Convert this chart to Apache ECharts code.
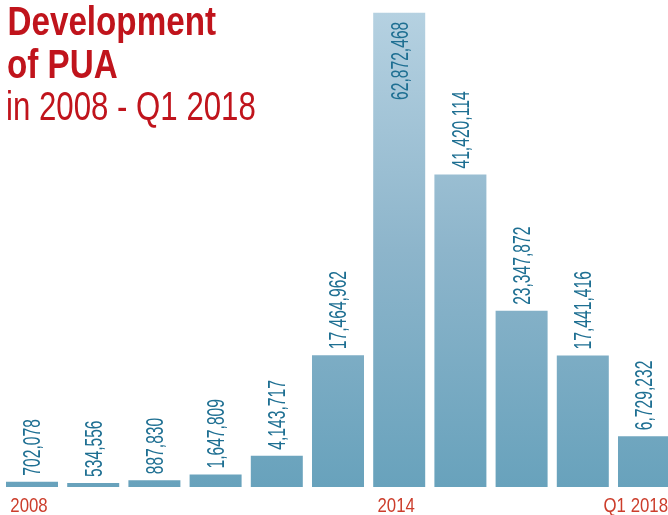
<!DOCTYPE html>
<html>
<head>
<meta charset="utf-8">
<script src="https://cdn.jsdelivr.net/npm/echarts@6/dist/echarts.min.js"></script>
<style>
  html, body { margin: 0; padding: 0; background: #ffffff; }
  #chart { width: 668px; height: 515px; }
</style>
</head>
<body>
<div id="chart"></div>
<script>
// Yearly PUA volume, 2008 through the first quarter of 2018
const categories = ['2008', '2009', '2010', '2011', '2012', '2013', '2014', '2015', '2016', '2017', 'Q1 2018'];
const puaValues = [702078, 534556, 887830, 1647809, 4143717, 17464962, 62872468, 41420114, 23347872, 17441416, 6729232];
// Only a few years are labelled under the axis
const tickLabels = ['2008', '', '', '', '', '', '2014', '', '', '', 'Q1 2018'];

const titleLines = ['Development', 'of PUA', 'in 2008 - Q1 2018'];

const chart = echarts.init(document.getElementById('chart'), null, { renderer: 'canvas' });

// Liberation Sans squeezed horizontally stands in for a condensed face
const FONT = '"Liberation Sans", Arial, sans-serif';
const RED = '#c0141c';
const BAR_WIDTH = 52;
const maxValue = Math.max(...puaValues);
const lastIndex = categories.length - 1;

// Rotated value label, squeezed along the reading direction
function valueLabel(params, api) {
  const idx = api.value(0);
  const val = api.value(1);
  const top = api.coord([idx, val]);
  const inside = val === maxValue;
  return {
    type: 'text',
    x: top[0] + 2,
    y: inside ? top[1] + 9 : top[1] - 6,
    rotation: Math.PI / 2,
    scaleX: 0.68,
    style: {
      text: val.toLocaleString('en-US'),
      font: '23px ' + FONT,
      fill: '#1e6f92',
      align: inside ? 'right' : 'left',
      verticalAlign: 'middle'
    }
  };
}

// Category names under the bars
function axisText(params, api) {
  const idx = api.value(0);
  const text = tickLabels[idx];
  if (!text) return null;
  const base = api.coord([idx, 0]);
  let x = base[0] - 3;
  let align = 'center';
  if (idx === lastIndex) { x = base[0] + BAR_WIDTH / 2 - 2; align = 'right'; }
  return {
    type: 'text',
    x: x,
    y: base[1] + 19,
    scaleX: 0.8,
    style: { text: text, font: '21px ' + FONT, fill: '#cc3d2b', align: align, verticalAlign: 'middle' }
  };
}

const option = {
  backgroundColor: '#ffffff',
  animation: false,
  graphic: [
    { type: 'text', x: 7.5, y: 24, scaleX: 0.83,
      style: { text: titleLines[0], font: 'bold 40px ' + FONT, fill: RED, verticalAlign: 'middle' } },
    { type: 'text', x: 7, y: 67, scaleX: 0.83,
      style: { text: titleLines[1], font: 'bold 40px ' + FONT, fill: RED, verticalAlign: 'middle' } },
    { type: 'text', x: 6, y: 109, scaleX: 0.78,
      style: { text: titleLines[2], font: '40px ' + FONT, fill: RED, verticalAlign: 'middle' } }
  ],
  // Category centres run from the first to the last bar's middle
  grid: { left: 32, width: 612, top: 12.7, bottom: 28, containLabel: false },
  xAxis: {
    type: 'category',
    data: categories,
    boundaryGap: false,
    axisLine: { show: false },
    axisTick: { show: false },
    axisLabel: { show: false }
  },
  yAxis: {
    type: 'value',
    min: 0,
    max: maxValue,
    show: false,
    splitLine: { show: false }
  },
  series: [
    {
      type: 'bar',
      barWidth: BAR_WIDTH,
      clip: false,
      data: puaValues,
      itemStyle: {
        color: new echarts.graphic.LinearGradient(0, 12.7, 0, 487, [
          { offset: 0, color: '#b5d1e1' },
          { offset: 0.5, color: '#8db5cb' },
          { offset: 1, color: '#68a2bc' }
        ], true)
      }
    },
    {
      type: 'custom',
      clip: false,
      z: 5,
      data: puaValues.map((v, i) => [i, v]),
      encode: { x: 0, y: 1 },
      renderItem: valueLabel
    },
    {
      type: 'custom',
      clip: false,
      z: 5,
      data: puaValues.map((v, i) => [i, 0]),
      encode: { x: 0, y: 1 },
      renderItem: axisText
    }
  ]
};

chart.setOption(option);
</script>
</body>
</html>
